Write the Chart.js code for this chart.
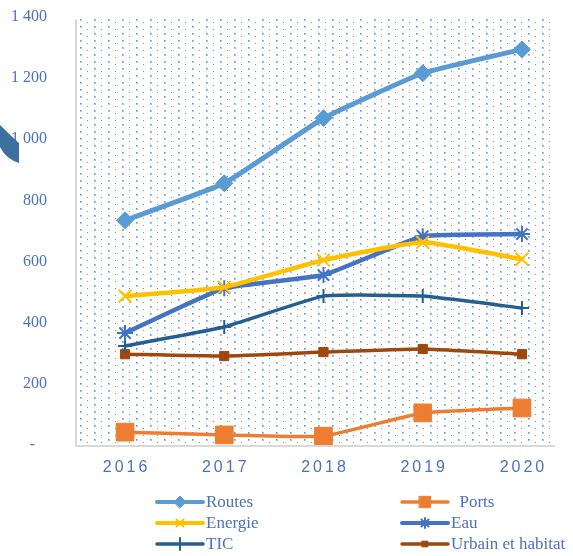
<!DOCTYPE html>
<html>
<head>
<meta charset="utf-8">
<script src="https://cdn.jsdelivr.net/npm/chart.js@4/dist/chart.umd.min.js"></script>
<style>
  html, body { margin: 0; padding: 0; background: #fff; }
  #wrap { width: 573px; height: 556px; }
</style>
</head>
<body>
<div id="wrap"><canvas id="chart" width="573" height="556"></canvas></div>
<script>
// Data
const years = [2016, 2017, 2018, 2019, 2020];
const routes = [735, 856, 1069, 1216, 1294];
const ports = [42, 33, 29, 105, 121];
const energie = [487, 516, 605, 663, 608];
const eau = [366, 513, 556, 683, 690];
const tic = [324, 386, 487, 487, 448];
const urbain = [297, 291, 304, 314, 297];
const seriesNames = ['Routes', '  Ports', 'Energie', 'Eau', 'TIC', 'Urbain et habitat'];
const yTicks = [0, 200, 400, 600, 800, 1000, 1200, 1400];

const textBlue = '#4a72c4';

function toPoints(values) {
    return values.map((v, i) => ({ x: years[i], y: v }));
}

function makeSeries(label, values, color, width, style, radius, border) {
    return {
        label: label,
        data: toPoints(values),
        borderColor: color,
        backgroundColor: color,
        borderWidth: width,
        pointStyle: style,
        pointRadius: radius,
        pointBorderWidth: border,
        pointBorderColor: color,
        pointBackgroundColor: color,
        tension: 0.12
    };
}

// Dotted plot-area background
function dotPattern(ctx) {
    const tile = document.createElement('canvas');
    tile.width = 14;
    tile.height = 14;
    const t = tile.getContext('2d');
    t.fillStyle = '#9ec6ec';
    t.fillRect(3, 2, 2, 2);
    t.fillRect(3, 9, 2, 2);
    t.fillStyle = '#5b9bd5';
    t.fillRect(3, 2, 1, 1);
    t.fillRect(3, 9, 1, 1);
    t.fillStyle = '#8c8c8c';
    t.fillRect(10, 5, 1, 1);
    t.fillRect(10, 12, 1, 1);
    return ctx.createPattern(tile, 'repeat');
}

const backgroundPlugin = {
    id: 'plotBackground',
    beforeDraw(chart) {
        const ctx = chart.ctx;
        const a = chart.chartArea;
        ctx.save();
        ctx.fillStyle = '#fff';
        ctx.fillRect(0, 0, chart.width, chart.height);
        ctx.translate(a.left, a.top);
        ctx.fillStyle = dotPattern(ctx);
        ctx.fillRect(0, 0, a.right - a.left, a.bottom - a.top);
        ctx.restore();

        // axis lines
        ctx.save();
        ctx.strokeStyle = '#d9d9d9';
        ctx.lineWidth = 2;
        ctx.beginPath();
        ctx.moveTo(a.left - 1, a.top + 2);
        ctx.lineTo(a.left - 1, a.bottom + 1);
        ctx.lineTo(a.right, a.bottom + 1);
        ctx.stroke();
        ctx.restore();
    },
    afterDraw(chart) {
        // page ornament at the left edge, over the labels
        const ctx = chart.ctx;
        ctx.save();
        ctx.fillStyle = '#3d6f9f';
        ctx.beginPath();
        ctx.moveTo(0, 125);
        ctx.quadraticCurveTo(10, 135, 19, 143);
        ctx.lineTo(19, 163);
        ctx.quadraticCurveTo(6, 159, 0, 147);
        ctx.closePath();
        ctx.fill();
        ctx.restore();
    }
};

// Year labels with wider letter spacing, plus the two-column legend
const labelsPlugin = {
    id: 'labelsAndLegend',
    afterDraw(chart) {
        const ctx = chart.ctx;
        const x = chart.scales.x;
        ctx.save();
        ctx.font = '16px "Liberation Sans", Arial, sans-serif';
        ctx.fillStyle = textBlue;
        ctx.textAlign = 'center';
        ctx.textBaseline = 'middle';
        if ('letterSpacing' in ctx) ctx.letterSpacing = '3px';
        years.forEach(yr => {
            ctx.fillText(String(yr), x.getPixelForValue(yr) + 1.5, 468);
        });
        ctx.restore();

        const legendRadius = [6, 8, 5, 5, 6, 4];
        ctx.save();
        ctx.font = '17px "Liberation Serif", "Times New Roman", serif';
        ctx.textBaseline = 'middle';
        ctx.textAlign = 'left';
        chart.data.datasets.forEach((ds, i) => {
            const col = i % 2;
            const row = Math.floor(i / 2);
            const x0 = col === 0 ? 157 : 402;
            const y0 = 502 + row * 21;
            ctx.strokeStyle = ds.borderColor;
            ctx.lineWidth = Math.min(ds.borderWidth, 4);
            ctx.lineCap = 'round';
            ctx.beginPath();
            ctx.moveTo(x0, y0);
            ctx.lineTo(x0 + 46, y0);
            ctx.stroke();
            ctx.fillStyle = ds.pointBackgroundColor;
            ctx.strokeStyle = ds.pointBorderColor;
            ctx.lineWidth = ds.pointBorderWidth;
            Chart.helpers.drawPoint(ctx, {
                pointStyle: ds.pointStyle,
                radius: legendRadius[i],
                rotation: 0,
                borderWidth: ds.pointBorderWidth
            }, x0 + 23, y0);
            ctx.fillStyle = textBlue;
            ctx.fillText(seriesNames[i], x0 + 49, y0 + 1);
        });
        ctx.restore();
    }
};

new Chart(document.getElementById('chart'), {
    type: 'line',
    data: {
        datasets: [
            makeSeries(seriesNames[0], routes, '#5b9bd5', 5, 'rectRot', 8.5, 1),
            makeSeries(seriesNames[1], ports, '#ed7d31', 3.5, 'rect', 12.5, 1),
            makeSeries(seriesNames[2], energie, '#ffc000', 4.5, 'crossRot', 9, 2),
            makeSeries(seriesNames[3], eau, '#4472c4', 4.5, 'star', 8, 2),
            makeSeries(seriesNames[4], tic, '#255e91', 3.5, 'cross', 7, 2),
            makeSeries(seriesNames[5], urbain, '#9e480e', 3.5, 'rect', 6.5, 1)
        ]
    },
    options: {
        responsive: false,
        animation: false,
        layout: { padding: { top: 17, right: 18, left: 0, bottom: 0 } },
        plugins: {
            legend: { display: false },
            tooltip: { enabled: false }
        },
        scales: {
            x: {
                type: 'linear',
                min: 2015.516,
                max: 2020.333,
                grid: { display: false, drawTicks: false },
                border: { display: false },
                ticks: { display: false },
                afterBuildTicks(axis) {
                    axis.ticks = years.map(v => ({ value: v }));
                },
                afterFit(axis) {
                    axis.height = 111;
                    axis.paddingLeft = 0;
                    axis.paddingRight = 0;
                }
            },
            y: {
                min: 0,
                max: 1400,
                grid: { display: false, drawTicks: false },
                border: { display: false },
                afterBuildTicks(axis) {
                    axis.ticks = yTicks.map(v => ({ value: v }));
                },
                afterFit(axis) {
                    axis.width = 77;
                    axis.paddingTop = 0;
                    axis.paddingBottom = 0;
                },
                ticks: {
                    padding: 30,
                    color: textBlue,
                    font: { family: '"Liberation Serif", "Times New Roman", serif', size: 16 },
                    callback(v) {
                        if (v === 0) return '-   ';
                        if (v >= 1000) return Math.floor(v / 1000) + ' ' + String(v % 1000).padStart(3, '0');
                        return String(v);
                    }
                }
            }
        }
    },
    plugins: [backgroundPlugin, labelsPlugin]
});
</script>
</body>
</html>
